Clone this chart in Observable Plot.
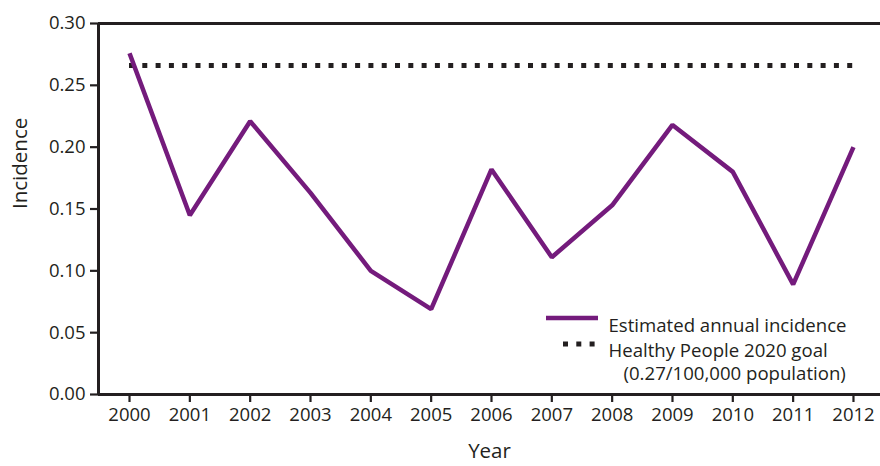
<!DOCTYPE html>
<html>
<head>
<meta charset="utf-8">
<script src="https://cdn.jsdelivr.net/npm/d3@7"></script>
<script src="https://cdn.jsdelivr.net/npm/@observablehq/plot@0.6"></script>
<style>
  html, body { margin: 0; padding: 0; background: #fff; }
  #chart { width: 880px; height: 466px; }
</style>
</head>
<body>
<div id="chart"></div>
<script>
const years = [2000, 2001, 2002, 2003, 2004, 2005, 2006, 2007, 2008, 2009, 2010, 2011, 2012];
const incidence = [0.276, 0.145, 0.221, 0.163, 0.100, 0.069, 0.182, 0.111, 0.153, 0.218, 0.180, 0.089, 0.200];
const goalValue = 0.266;
const yTicks = [0, 0.05, 0.10, 0.15, 0.20, 0.25, 0.30];
const seriesLabel = "Estimated annual incidence";
const goalLabel1 = "Healthy People 2020 goal";
const goalLabel2 = "(0.27/100,000 population)";

const data = years.map((y, i) => ({year: y, value: incidence[i]}));
const ink = "#231f20";
const purple = "#741b7c";
const xDomain = [1999.486, 2012.448];

const plot = Plot.plot({
  width: 880,
  height: 466,
  marginLeft: 98,
  marginRight: 0,
  marginTop: 23,
  marginBottom: 72,
  style: {fontFamily: "'Open Sans', sans-serif", fontSize: "18px", color: ink, background: "#fff"},
  x: {type: "linear", domain: xDomain},
  y: {domain: [0, 0.30]},
  marks: [
    Plot.axisX({ticks: years, tickFormat: "d", tickSize: 8, tickPadding: 5, label: null, stroke: ink, strokeWidth: 2.2, fontSize: 18.5, fill: ink}),
    Plot.axisY({ticks: yTicks, tickFormat: d3.format(".2f"), tickSize: 8, tickPadding: 5, label: null, stroke: ink, strokeWidth: 2.2, fontSize: 18.5, fill: ink}),
    Plot.ruleY([0.30], {stroke: ink, strokeWidth: 3}),
    Plot.ruleY([0], {stroke: ink, strokeWidth: 3}),
    Plot.ruleX([xDomain[0]], {stroke: ink, strokeWidth: 3}),
    Plot.ruleY([goalValue], {x1: years[0], x2: years[years.length - 1], stroke: ink, strokeWidth: 5, strokeDasharray: "5 8.3"}),
    Plot.line(data, {x: "year", y: "value", stroke: purple, strokeWidth: 4.5, strokeLinejoin: "miter", strokeLinecap: "butt"}),
    Plot.text(["Year"], {frameAnchor: "bottom", dy: 63, fontSize: 20.5, fill: ink}),
    Plot.text(["Incidence"], {frameAnchor: "left", dx: -78, rotate: -90, fontSize: 20.5, fill: ink}),
    Plot.text([seriesLabel], {frameAnchor: "top-left", dx: 510, dy: 295, textAnchor: "start", fontSize: 18.6, fill: ink}),
    Plot.text([goalLabel1], {frameAnchor: "top-left", dx: 510, dy: 320, textAnchor: "start", fontSize: 18.6, fill: ink}),
    Plot.text([goalLabel2], {frameAnchor: "top-left", dx: 525, dy: 343, textAnchor: "start", fontSize: 18.6, fill: ink})
  ]
});

const svg = d3.select(plot);
svg.append("line").attr("x1", 546).attr("x2", 598).attr("y1", 318).attr("y2", 318)
  .attr("stroke", purple).attr("stroke-width", 4.5);
svg.append("line").attr("x1", 563).attr("x2", 600).attr("y1", 344).attr("y2", 344)
  .attr("stroke", ink).attr("stroke-width", 5).attr("stroke-dasharray", "5 8.3");

document.getElementById("chart").appendChild(plot);
</script>
</body>
</html>
